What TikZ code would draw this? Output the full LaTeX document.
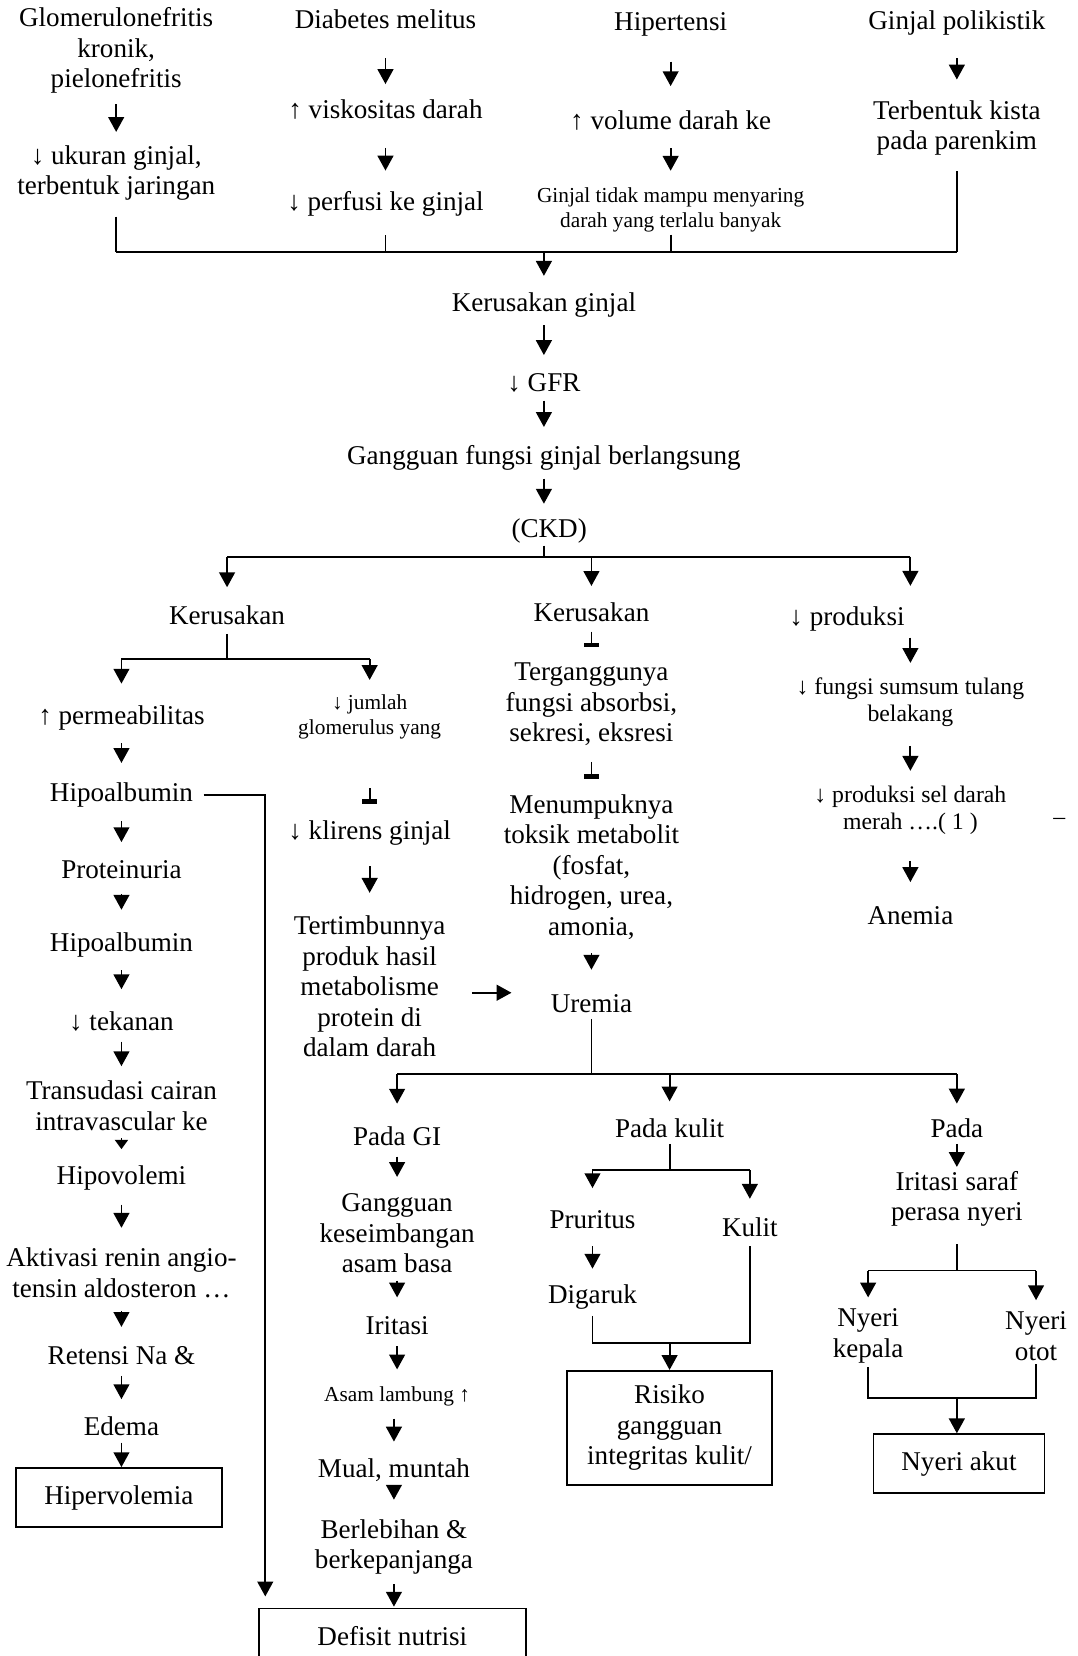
\documentclass[tikz,border=0pt]{standalone}
\usepackage{fontspec}
\setmainfont{Liberation Serif}
\usetikzlibrary{arrows.meta}

\begin{document}
\begin{tikzpicture}[
    x=0.02cm, y=-0.02cm,
    txt/.style={align=center, inner sep=1pt,
      font=\fontsize{14.6}{16.4}\selectfont},
    sml/.style={align=center, inner sep=1pt,
      font=\fontsize{11.5}{13.6}\selectfont},
    mid/.style={align=center, inner sep=1pt,
      font=\fontsize{12.8}{14.7}\selectfont},
    res/.style={draw, line width=1pt, align=center, inner sep=0pt,
      font=\fontsize{14.6}{16.4}\selectfont},
    arr/.style={-{Triangle[width=8.5pt,length=8pt]}, line width=1pt,
      shorten <=3pt, shorten >=9pt},
    cut/.style={-{Rectangle[width=8pt,length=2.4pt]}, line width=1pt,
      shorten <=3pt, shorten >=9pt},
    ln/.style={line width=1pt}
  ]
  \useasboundingbox (0,0) rectangle (1020,1568);
  \clip (0,0) rectangle (1020,1568);

  % causes
  \node[txt] (g1) at (110,48)  {Glomerulonefritis\\kronik,\\pielonefritis};
  \node[txt] (g2) at (110,164) {↓ ukuran ginjal,\\terbentuk jaringan};
  \node[txt] (d1) at (365,18)  {Diabetes melitus};
  \node[txt] (d2) at (365,104) {↑ viskositas darah};
  \node[txt] (d3) at (365,193) {↓ perfusi ke ginjal};
  \node[txt] (h1) at (635,23)  {Hipertensi};
  \node[txt] (h2) at (635,114) {↑ volume darah ke};
  \node[sml] (h3) at (635,199) {Ginjal tidak mampu menyaring\\darah yang terlalu banyak};
  \node[txt] (p1) at (906,22)  {Ginjal polikistik};
  \node[txt] (p2) at (906,121) {Terbentuk kista\\pada parenkim};

  \draw[arr, shorten <=4.5pt, shorten >=6.2pt] (g1) -- (g2);
  \draw[arr, shorten <=14.9pt, shorten >=7.4pt] (d1) -- (d2);
  \draw[arr, shorten <=14pt, shorten >=10pt] (d2) -- (d3);
  \draw[arr, shorten <=12.5pt, shorten >=12pt] (h1) -- (h2);
  \draw[arr, shorten <=8.5pt, shorten >=8pt] (h2) -- (h3);
  \draw[arr, shorten <=11pt, shorten >=10pt] (p1) -- (p2);

  \coordinate (j1) at (515,239);
  \draw[ln] (g2 |- j1) -- (p2 |- j1);
  \draw[ln, shorten <=7.4pt] (g2) -- (g2 |- j1);
  \draw[ln, shorten <=9pt] (d3) -- (d3 |- j1);
  \draw[ln] (h3) -- (h3 |- j1);
  \draw[ln, shorten <=7.4pt] (p2) -- (p2 |- j1);

  % main chain
  \node[txt] (kg)  at (515,289) {Kerusakan ginjal};
  \node[txt] (gfr) at (515,363) {↓ GFR};
  \node[txt] (gg)  at (515,434) {Gangguan fungsi ginjal berlangsung};
  \node[txt] (ckd) at (520,503) {(CKD)};

  \draw[arr, shorten <=0pt, shorten >=8pt] (j1) -- (kg);
  \draw[arr] (kg) -- (gfr);
  \draw[arr] (gfr) -- (gg);
  \draw[arr, shorten >=7pt] (gg) -- (gg |- ckd.north);

  \coordinate (j2) at (515,527);
  \node[txt] (k1) at (215,583) {Kerusakan};
  \node[txt] (k2) at (560,580) {Kerusakan};
  \node[txt] (pr) at (802,586) {↓ produksi};
  \node[mid] (fs) at (862,665) {↓ fungsi sumsum tulang\\belakang};
  \draw[ln] (ckd.south -| j2) -- (j2);
  \draw[ln] (k1 |- j2) -- (fs |- j2);
  \draw[arr, shorten <=0pt] (k1 |- j2) -- (k1);
  \draw[arr, shorten <=0pt, shorten >=8pt] (k2 |- j2) -- (k2);
  \draw[arr, shorten <=0pt, shorten >=10pt] (fs |- j2) -- (fs |- pr.north);

  % left branch
  \coordinate (j3) at (215,624);
  \node[txt] (pm) at (115,680) {↑ permeabilitas};
  \node[sml] (jg) at (350,679) {↓ jumlah\\glomerulus yang};
  \draw[ln, shorten <=3.4pt] (k1) -- (j3);
  \draw[ln] (pm |- j3) -- (jg |- j3);
  \draw[arr, shorten <=0pt, shorten >=10.8pt] (pm |- j3) -- (pm);
  \draw[arr, shorten <=0pt, shorten >=6.8pt] (jg |- j3) -- (jg);

  \node[txt] (ha1) at (115,753)  {Hipoalbumin};
  \node[txt] (pn)  at (115,823)  {Proteinuria};
  \node[txt] (ha2) at (115,895)  {Hipoalbumin};
  \node[txt] (tk)  at (115,967)  {↓ tekanan};
  \node[txt] (tr)  at (115,1047) {Transudasi cairan\\intravascular ke};
  \node[txt] (hv)  at (115,1115) {Hipovolemi};
  \node[txt] (ak)  at (115,1205) {Aktivasi renin angio-\\tensin aldosteron …};
  \node[txt] (rn)  at (115,1284) {Retensi Na \&};
  \node[txt] (ed)  at (115,1350) {Edema};
  \node[res, minimum width=3.9cm, minimum height=1.12cm] (hb) at (112.5,1418) {Hipervolemia};

  \draw[arr, shorten <=5.7pt, shorten >=9.6pt] (pm) -- (ha1);
  \draw[arr, shorten <=6.2pt, shorten >=8.5pt] (ha1) -- (pn);
  \draw[arr, shorten <=7.4pt, shorten >=11.3pt] (pn) -- (ha2);
  \draw[arr, shorten <=5.7pt, shorten >=10.8pt] (ha2) -- (tk);
  \draw[arr, shorten <=4.5pt, shorten >=6.8pt] (tk) -- (tr);
  \draw[-{Triangle[width=7pt,length=5pt]}, line width=1pt,
    shorten <=3pt, shorten >=7.5pt] (tr) -- (hv);
  \draw[arr, shorten <=6.8pt, shorten >=9.6pt] (hv) -- (ak);
  \draw[arr, shorten <=6.2pt, shorten >=9.6pt] (ak) -- (rn);
  \draw[arr, shorten <=4.5pt, shorten >=8pt] (rn) -- (ed);
  \draw[arr, shorten <=2.8pt, shorten >=0pt] (ed) -- (ed |- hb.north);

  \node[txt] (kl) at (350,789) {↓ klirens ginjal};
  \node[txt] (tt) at (350,934) {Tertimbunnya\\produk hasil\\metabolisme\\protein di\\dalam darah};
  \draw[cut, shorten <=25pt, shorten >=8pt] (jg) -- (kl);
  \draw[arr, shorten <=10pt, shorten >=11.3pt] (kl) -- (tt);

  % middle branch
  \node[txt] (tf) at (560,667) {Terganggunya\\fungsi absorbsi,\\sekresi, eksresi};
  \node[txt] (mt) at (560,821) {Menumpuknya\\toksik metabolit\\(fosfat,\\hidrogen, urea,\\amonia,};
  \node[txt] (ur) at (560,950) {Uremia};
  \draw[cut, shorten <=4pt, shorten >=7.4pt] (k2) -- (tf);
  \draw[cut, shorten <=7.4pt, shorten >=7.4pt] (tf) -- (mt);
  \draw[arr, shorten <=6.2pt, shorten >=12pt] (mt) -- (ur);
  \coordinate (tte) at ([yshift=-3.4pt]tt.east);
  \draw[arr, shorten <=13pt, shorten >=20pt] (tte) -- (tte -| ur.west);

  % right branch
  \node[mid] (ps)  at (862,767)  {↓ produksi sel darah\\merah ….( 1 )};
  \node[txt] (an)  at (862,867)  {Anemia};
  \node[mid] (dsh) at (1003,778) {–};
  \draw[arr, shorten <=2.3pt, shorten >=6.8pt] (pr.south -| fs) -- (fs);
  \draw[arr, shorten <=9pt, shorten >=6.8pt] (fs) -- (ps);
  \draw[arr, shorten <=13pt, shorten >=12pt] (ps) -- (an);

  % uremia
  \coordinate (j4) at (560,1017);
  \node[txt] (gi) at (376,1076) {Pada GI};
  \node[txt] (pk) at (634,1068) {Pada kulit};
  \node[txt] (pd) at (906,1068) {Pada};
  \draw[ln, shorten <=2.3pt] (ur) -- (j4);
  \draw[ln] (gi |- j4) -- (pd |- j4);
  \draw[arr, shorten <=0pt, shorten >=11.3pt] (gi |- j4) -- (gi);
  \draw[arr, shorten <=0pt, shorten >=8pt] (pk |- j4) -- (pk);
  \draw[arr, shorten <=0pt, shorten >=6.8pt] (pd |- j4) -- (pd);

  \node[txt] (gk) at (376,1168) {Gangguan\\keseimbangan\\asam basa};
  \node[txt] (ir) at (376,1255) {Iritasi};
  \node[sml] (al) at (376,1322) {Asam lambung ↑};
  \node[txt] (mm) at (373,1392) {Mual, muntah};
  \node[txt] (bl) at (373,1465) {Berlebihan \&\\berkepanjanga};
  \node[res, minimum width=5.06cm, minimum height=1.04cm] (dn) at (371.5,1549) {Defisit nutrisi};
  \draw[arr, shorten <=4.5pt, shorten >=8pt] (gi) -- (gk);
  \draw[arr, shorten <=2.8pt, shorten >=9pt] (gk) -- (ir);
  \draw[arr, shorten <=5pt, shorten >=8pt] (ir) -- (al);
  \draw[arr, shorten <=5.7pt, shorten >=8pt] (al.south -| mm) -- (mm);
  \draw[arr, shorten <=2.3pt, shorten >=9.6pt] (mm) -- (bl);
  \draw[arr, shorten <=4pt, shorten >=0.5pt] (bl) -- (bl |- dn.north);
  \draw[arr, shorten <=4.5pt, shorten >=6pt] (ha1) -| ([xshift=4pt]dn.north west);

  \coordinate (j5) at (634,1108);
  \node[txt] (pu) at (561,1155) {Pruritus};
  \node[txt] (ku) at (710,1162) {Kulit};
  \node[txt] (dg) at (561,1228) {Digaruk};
  \coordinate (j6) at (634,1272);
  \node[res, minimum width=3.88cm, minimum height=2.16cm] (rk) at (634,1352) {Risiko\\gangguan\\integritas kulit/};
  \draw[ln, shorten <=2.3pt] (pk) -- (j5);
  \draw[ln] (pu |- j5) -- (ku |- j5);
  \draw[arr, shorten <=0pt, shorten >=11pt] (pu |- j5) -- (pu);
  \draw[arr, shorten <=0pt, shorten >=9pt] (ku |- j5) -- (ku);
  \draw[arr, shorten <=8pt, shorten >=7.4pt] (pu) -- (dg);
  \draw[ln, shorten <=2.3pt, shorten >=4pt] (dg) -- (dg |- j6) -- (ku |- j6) -- (ku);
  \draw[arr, shorten <=0pt, shorten >=0pt] (j6) -- (rk);

  \node[txt] (is) at (906,1135) {Iritasi saraf\\perasa nyeri};
  \coordinate (j7) at (906,1203);
  \node[txt] (nk) at (822,1265) {Nyeri\\kepala};
  \node[txt] (no) at (981,1265) {Nyeri\\otot};
  \coordinate (j8) at (906,1324);
  \node[res, minimum width=3.24cm, minimum height=1.12cm] (na) at (908,1386) {Nyeri akut};
  \draw[arr, shorten <=2.3pt, shorten >=1pt] (pd) -- (is);
  \draw[ln, shorten <=8.5pt] (is) -- (j7);
  \draw[ln] (nk |- j7) -- (no |- j7);
  \draw[arr, shorten <=0pt, shorten >=5pt] (nk |- j7) -- (nk);
  \draw[arr, shorten <=0pt, shorten >=5pt] (no |- j7) -- (no);
  \draw[ln, shorten <=1pt, shorten >=1pt] (nk) -- (nk |- j8) -- (no |- j8) -- (no);
  \draw[arr, shorten <=0pt, shorten >=0pt] (j8) -- (j8 |- na.north);

\end{tikzpicture}
\end{document}
